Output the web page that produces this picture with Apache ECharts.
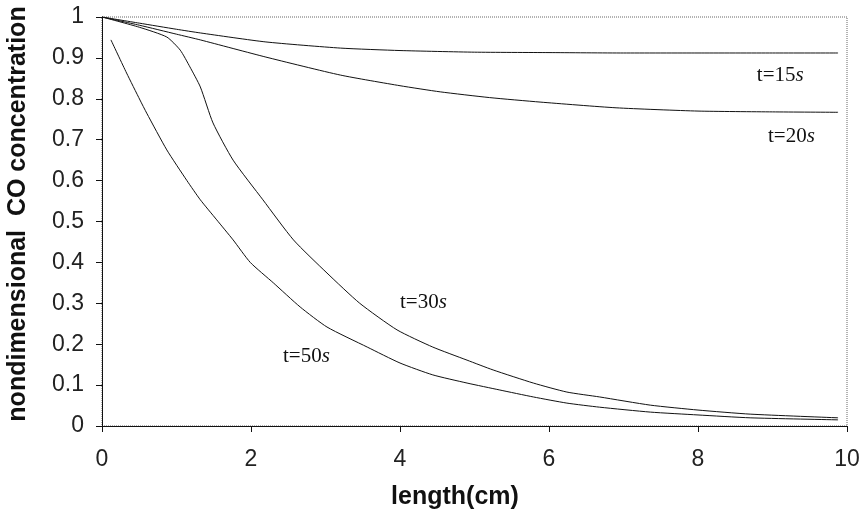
<!DOCTYPE html>
<html><head><meta charset="utf-8">
<script src="https://cdn.jsdelivr.net/npm/echarts@6/dist/echarts.min.js"></script>
<style>html,body{margin:0;padding:0;background:#fff}#c{width:863px;height:512px}</style>
</head><body><div id="c"></div>
<script>
var x15 = [0, 0.5, 1, 1.32, 2.2, 3.2, 4, 5, 6, 7, 8, 9, 9.88];
var y15 = [1, 0.985, 0.97, 0.961, 0.939, 0.924, 0.918, 0.914, 0.913, 0.912, 0.912, 0.912, 0.912];
var x20 = [0, 0.5, 1, 1.32, 2.2, 3.2, 4, 4.54, 5.2, 5.88, 6.9, 8, 9, 9.88];
var y20 = [1, 0.98, 0.958, 0.944, 0.902, 0.858, 0.832, 0.817, 0.803, 0.792, 0.778, 0.770, 0.768, 0.767];
var x30 = [0, 0.5, 0.87, 1.05, 1.18, 1.32, 1.49, 1.76, 2.16, 2.57, 3.02, 3.46, 3.96, 4.44, 4.9, 5.25, 5.79, 6.24, 6.68, 7.36, 8, 8.7, 9.88];
var y30 = [1, 0.975, 0.951, 0.919, 0.878, 0.829, 0.741, 0.65, 0.553, 0.455, 0.374, 0.30, 0.235, 0.193, 0.161, 0.137, 0.105, 0.083, 0.071, 0.051, 0.039, 0.029, 0.02];
var x50 = [0.12, 0.33, 0.51, 0.6, 0.87, 1.14, 1.32, 1.54, 1.76, 1.99, 2.3, 2.66, 3.02, 3.56, 4, 4.44, 4.9, 5.34, 5.79, 6.24, 6.68, 7.36, 8, 8.7, 9.88];
var y50 = [0.944, 0.863, 0.797, 0.765, 0.675, 0.60, 0.553, 0.504, 0.455, 0.40, 0.35, 0.291, 0.242, 0.193, 0.154, 0.125, 0.105, 0.088, 0.071, 0.056, 0.046, 0.034, 0.027, 0.02, 0.015];
var labels = ["t=15s", "t=20s", "t=30s", "t=50s"];
var labelPos = [[8.79, 0.858], [8.94, 0.709], [4.0, 0.303], [2.43, 0.17]];
var xTitle = "length(cm)";
var yTitle = "nondimensional  CO concentration";

function pairs(xs, ys) { return xs.map(function (v, i) { return [v, ys[i]]; }); }

var chart = echarts.init(document.getElementById('c'));
var lineStyle = { color: '#111', width: 1 };
var seriesData = [pairs(x15, y15), pairs(x20, y20), pairs(x30, y30), pairs(x50, y50)];
chart.setOption({
  animation: false,
  backgroundColor: '#fff',
  grid: { left: 102, right: 16, top: 17, bottom: 86, show: true, borderColor: '#666', borderWidth: 1, borderType: 'dotted' },
  xAxis: {
    type: 'value', min: 0, max: 10, interval: 2,
    axisLine: { lineStyle: { color: '#111', width: 1 } },
    axisTick: { show: true, length: 6, lineStyle: { color: '#111' } },
    axisLabel: { fontFamily: 'Liberation Sans', fontSize: 23, color: '#222', margin: 22 },
    splitLine: { show: false }
  },
  yAxis: {
    type: 'value', min: 0, max: 1, interval: 0.1,
    axisLine: { show: true, lineStyle: { color: '#111', width: 1 } },
    axisTick: { show: true, length: 6, lineStyle: { color: '#111' } },
    axisLabel: { fontFamily: 'Liberation Sans', fontSize: 23, color: '#222', margin: 18,
      formatter: function (v) { return String(Math.round(v * 10) / 10); } },
    splitLine: { show: false }
  },
  series: seriesData.map(function (d) {
    return { type: 'line', data: d, symbol: 'none', smooth: 0.2, lineStyle: lineStyle };
  })
});
var g = labels.map(function (t, i) {
  var p = chart.convertToPixel({ gridIndex: 0 }, labelPos[i]);
  return { type: 'text', x: p[0], y: p[1],
    style: { text: '{a|' + t.slice(0, -1) + '}{b|s}', fill: '#111', verticalAlign: 'middle',
      rich: { a: { fontFamily: 'Liberation Serif', fontSize: 21 }, b: { fontFamily: 'Liberation Serif', fontSize: 21, fontStyle: 'italic' } } } };
});
g.push({ type: 'text', x: 455, y: 497, style: { text: xTitle, fill: '#111', align: 'center', verticalAlign: 'middle',
  font: 'bold 25px "Liberation Sans"' } });
g.push({ type: 'text', x: 18, y: 214, rotation: Math.PI / 2, style: { text: yTitle, fill: '#111', align: 'center', verticalAlign: 'middle',
  font: 'bold 25px "Liberation Sans"' } });
chart.setOption({ graphic: g });
</script></body></html>
